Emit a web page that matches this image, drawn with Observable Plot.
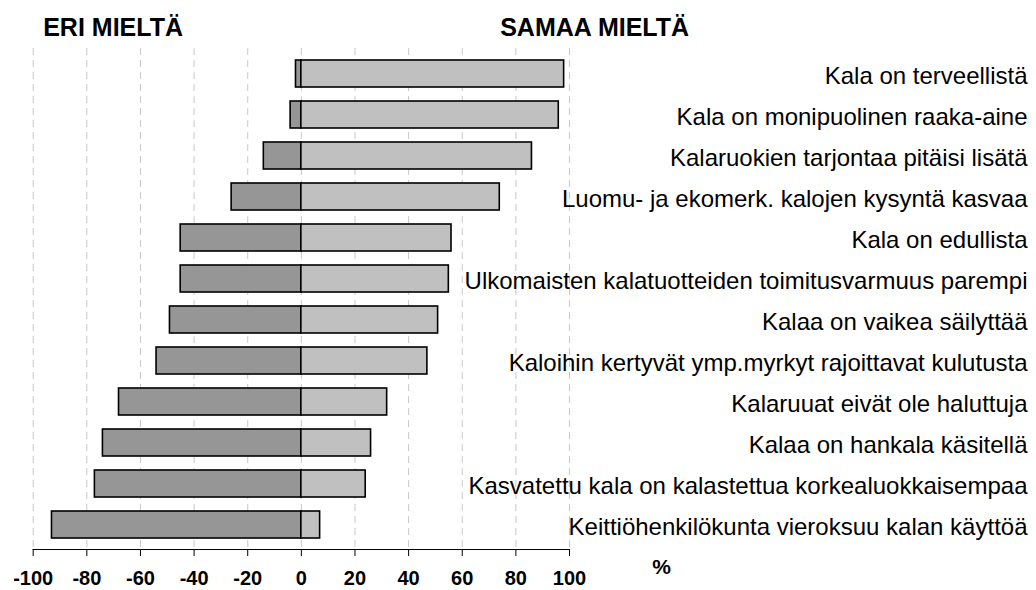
<!DOCTYPE html>
<html>
<head>
<meta charset="utf-8">
<script src="https://cdn.jsdelivr.net/npm/d3@7"></script>
<script src="https://cdn.jsdelivr.net/npm/@observablehq/plot@0.6"></script>
<style>
  html, body { margin: 0; padding: 0; background: #fff; }
  #chart svg { display: block; }
</style>
</head>
<body>
<div id="chart"></div>
<script>
const categories = [
  "Kala on terveellistä",
  "Kala on monipuolinen raaka-aine",
  "Kalaruokien tarjontaa pitäisi lisätä",
  "Luomu- ja ekomerk. kalojen kysyntä kasvaa",
  "Kala on edullista",
  "Ulkomaisten kalatuotteiden toimitusvarmuus parempi",
  "Kalaa on vaikea säilyttää",
  "Kaloihin kertyvät ymp.myrkyt rajoittavat kulutusta",
  "Kalaruuat eivät ole haluttuja",
  "Kalaa on hankala käsitellä",
  "Kasvatettu kala on kalastettua korkealuokkaisempaa",
  "Keittiöhenkilökunta vieroksuu kalan käyttöä"
];
const eriMielta = [2, 4, 14, 26, 45, 45, 49, 54, 68, 74, 77, 93];
const samaaMielta = [98, 96, 86, 74, 56, 55, 51, 47, 32, 26, 24, 7];
const xTicks = [-100, -80, -60, -40, -20, 0, 20, 40, 60, 80, 100];
const headings = ["ERI MIELTÄ", "SAMAA MIELTÄ"];
const unitLabel = "%";

const neg = categories.map((c, i) => ({cat: c, v: -eriMielta[i]}));
const pos = categories.map((c, i) => ({cat: c, v: samaaMielta[i]}));

const font = "'Liberation Sans', Arial, sans-serif";

const chart = Plot.plot({
  width: 1036,
  height: 590,
  marginTop: 48,
  marginBottom: 41,
  marginLeft: 32.7,
  marginRight: 467,
  style: {fontFamily: font, background: "#fff", overflow: "visible"},
  x: {domain: [-100, 100], ticks: xTicks},
  y: {domain: categories, paddingInner: 0.353, paddingOuter: 0.163, axis: null},
  marks: [
    Plot.ruleX(xTicks, {stroke: "#c8c8c8", strokeWidth: 1, strokeDasharray: "7,5"}),
    Plot.barX(neg, {y: "cat", x1: 0, x2: "v", fill: "#969696", stroke: "#000", strokeWidth: 1.6}),
    Plot.barX(pos, {y: "cat", x1: 0, x2: "v", fill: "#c0c0c0", stroke: "#000", strokeWidth: 1.6}),
    Plot.frame({anchor: "bottom", stroke: "#000", strokeWidth: 1.2}),
    Plot.axisX({
      ticks: xTicks, tickSize: 7, tickPadding: 14, stroke: "#000",
      fontSize: 20, fontWeight: "bold", fill: "#000", label: null,
      tickFormat: d => String(d)
    }),
    Plot.text(categories, {
      y: d => d, text: d => d, frameAnchor: "right", dx: 458, dy: 2,
      textAnchor: "end", fontSize: 24, fill: "#000"
    }),
    Plot.text([headings[0]], {
      text: d => d, frameAnchor: "top-left", dx: 10, dy: -30,
      textAnchor: "start", fontSize: 25, fontWeight: "bold", fill: "#000"
    }),
    Plot.text([headings[1]], {
      text: d => d, frameAnchor: "top-left", dx: 467, dy: -30,
      textAnchor: "start", fontSize: 25, fontWeight: "bold", fill: "#000"
    }),
    Plot.text([unitLabel], {
      text: d => d, frameAnchor: "bottom-right", dx: 92, dy: 24,
      textAnchor: "middle", fontSize: 21, fontWeight: "bold", fill: "#000"
    })
  ]
});
document.getElementById("chart").appendChild(chart);
</script>
</body>
</html>
